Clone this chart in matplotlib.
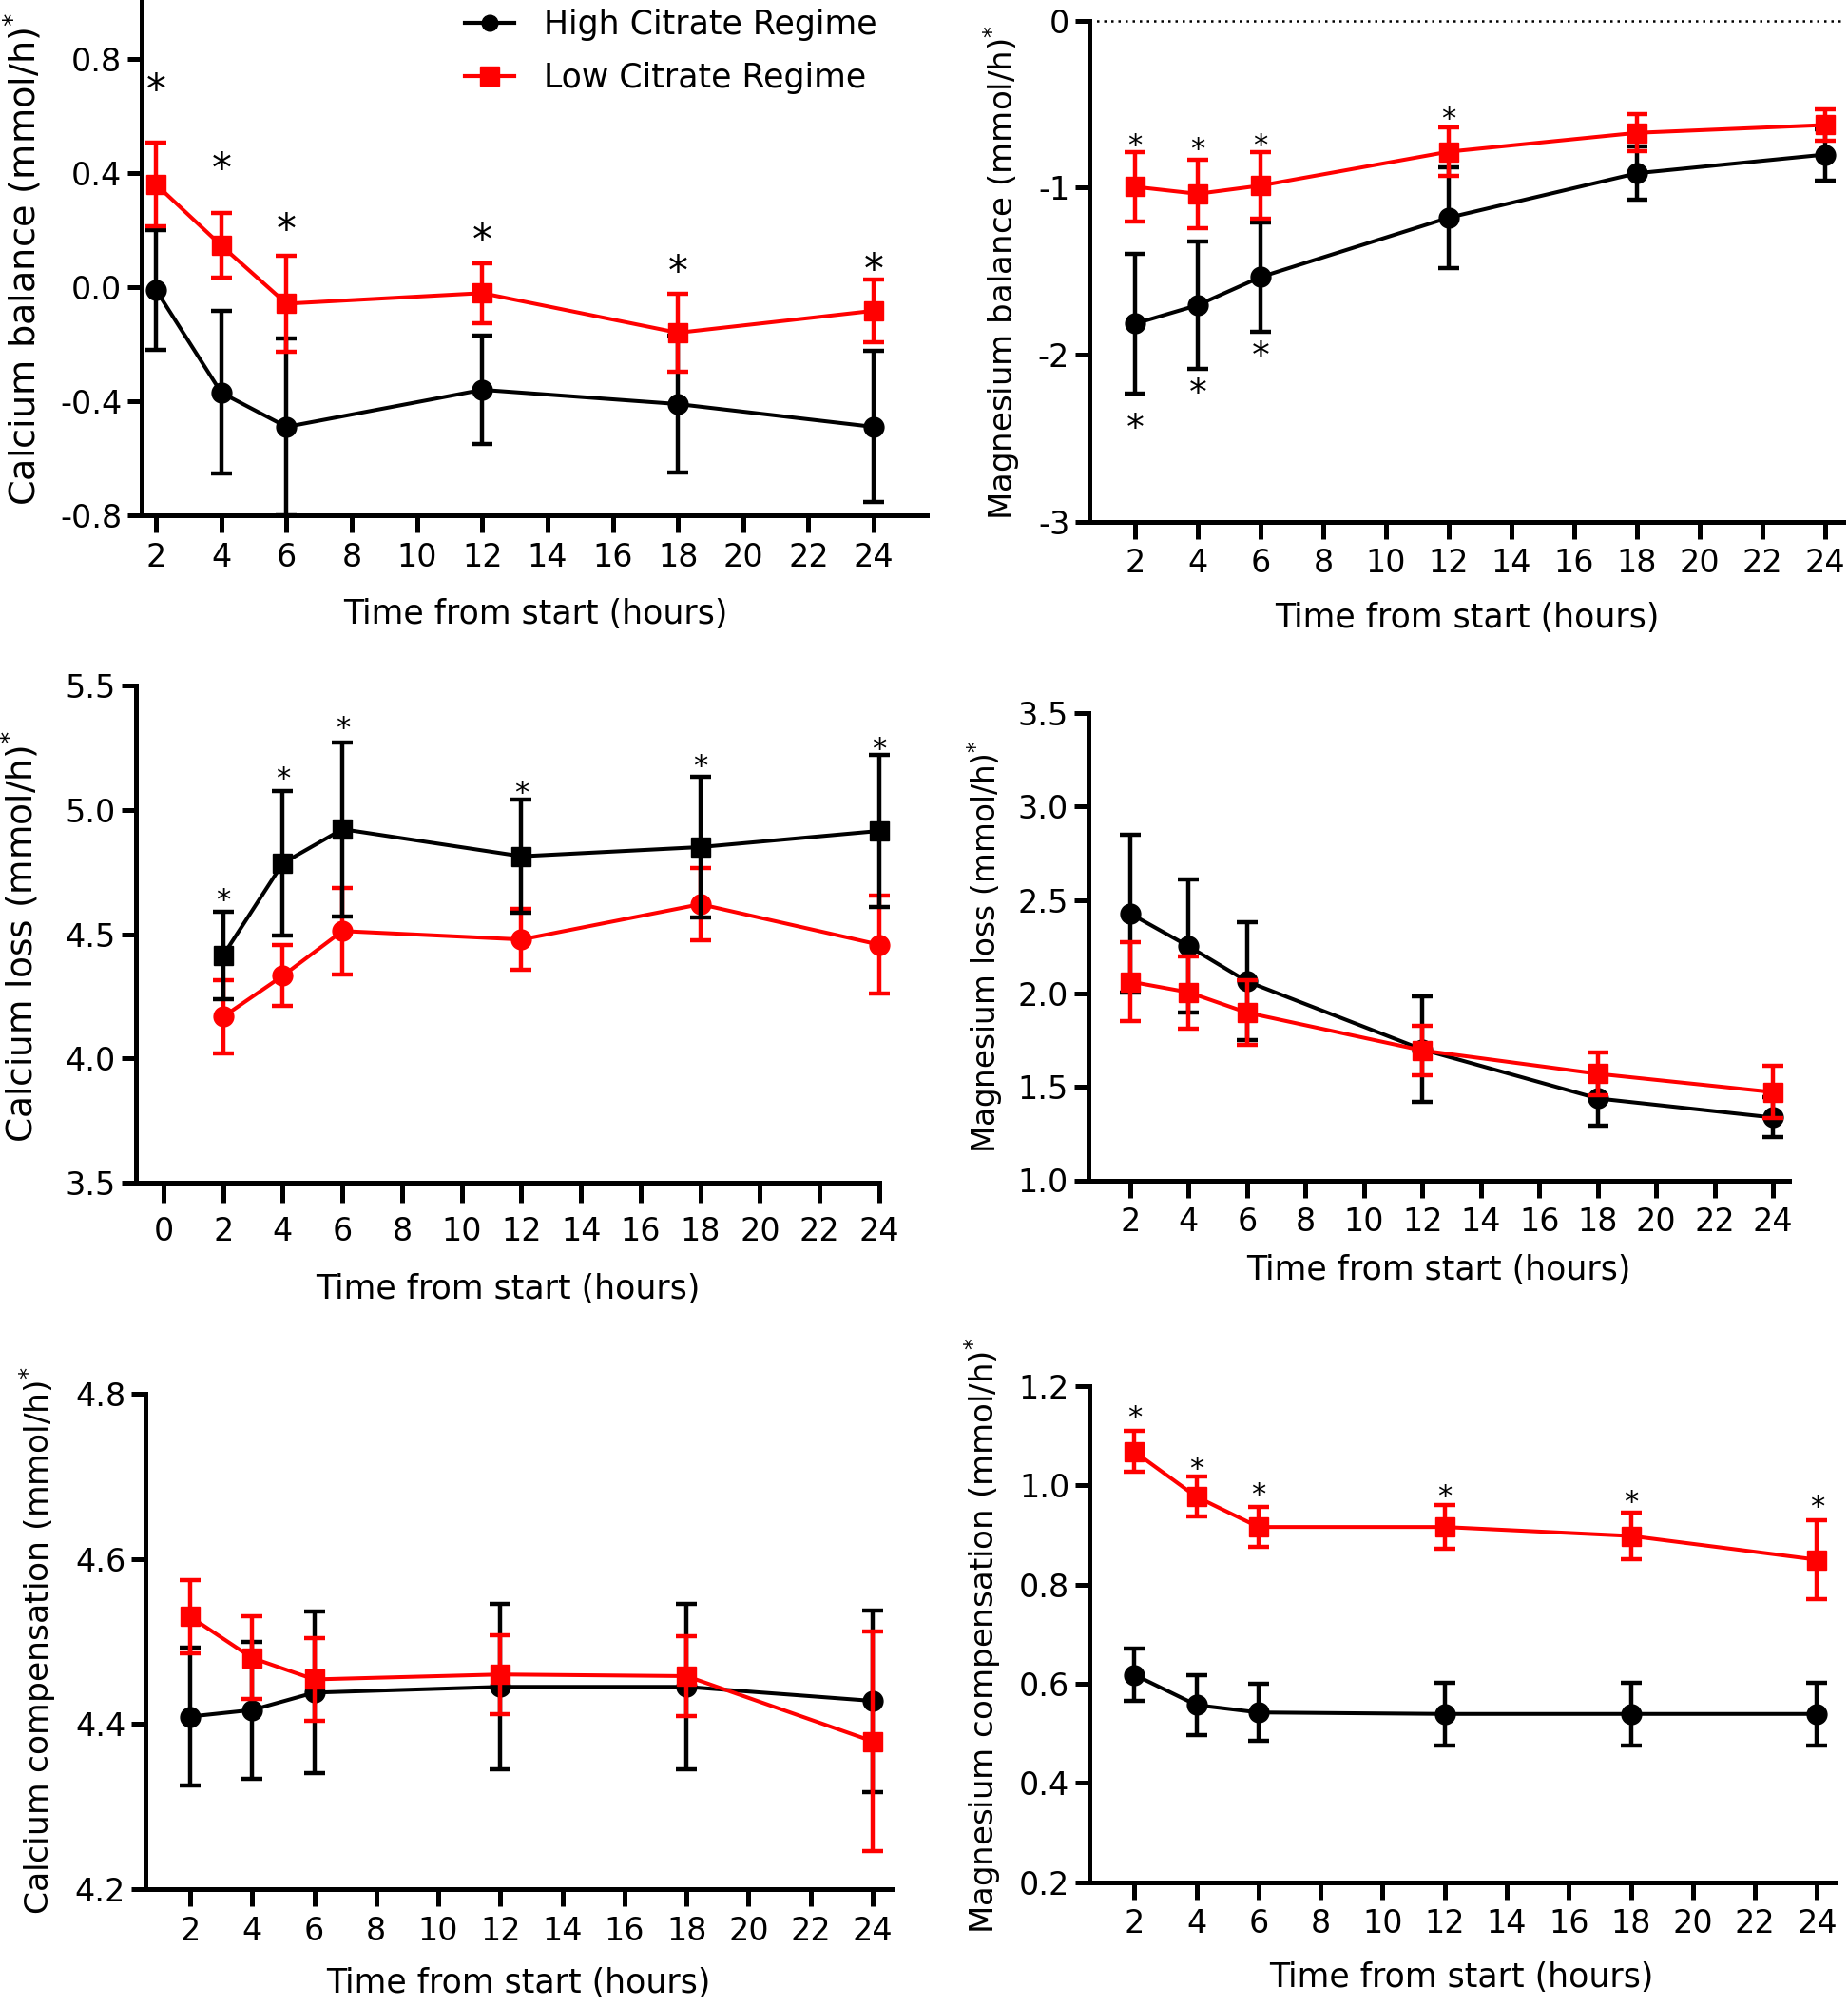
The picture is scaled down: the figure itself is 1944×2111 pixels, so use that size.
import matplotlib
matplotlib.use('Agg')
import matplotlib.pyplot as plt
from matplotlib.lines import Line2D
from matplotlib.ticker import FormatStrFormatter

plt.rcParams['font.family'] = ['DejaVu Sans']
plt.rcParams['axes.unicode_minus'] = False
plt.rcParams['mathtext.fontset'] = 'dejavusans'

# ---------------- data ----------------
hours = [2, 4, 6, 12, 18, 24]

ca_bal_high = [-0.01, -0.37, -0.49, -0.36, -0.41, -0.49]
ca_bal_high_err = [0.21, 0.285, 0.31, 0.19, 0.24, 0.265]
ca_bal_low = [0.36, 0.146, -0.058, -0.021, -0.16, -0.083]
ca_bal_low_err = [0.147, 0.113, 0.168, 0.105, 0.136, 0.11]
ca_bal_star = [0.726, 0.45, 0.236, 0.199, 0.09, 0.095]

mg_bal_high = [-1.815, -1.704, -1.536, -1.18, -0.914, -0.802]
mg_bal_high_err = [0.42, 0.38, 0.325, 0.30, 0.16, 0.154]
mg_bal_low = [-0.995, -1.037, -0.988, -0.785, -0.672, -0.625]
mg_bal_low_err = [0.21, 0.205, 0.2, 0.145, 0.11, 0.093]
mg_bal_star_hours = [2, 4, 6, 12]
mg_bal_star_top = [-0.70, -0.72, -0.70, -0.54]
mg_bal_star_low_hours = [2, 4, 6]
mg_bal_star_low = [-2.383, -2.173, -1.955]

ca_loss_high = [4.415, 4.786, 4.923, 4.814, 4.851, 4.916]
ca_loss_high_err = [0.175, 0.29, 0.35, 0.227, 0.283, 0.305]
ca_loss_low = [4.168, 4.333, 4.513, 4.479, 4.621, 4.458]
ca_loss_low_err = [0.148, 0.122, 0.173, 0.122, 0.145, 0.198]
ca_loss_star = [4.667, 5.159, 5.36, 5.103, 5.21, 5.279]

mg_loss_high = [2.427, 2.252, 2.064, 1.70, 1.438, 1.336]
mg_loss_high_err = [0.42, 0.356, 0.316, 0.282, 0.143, 0.107]
mg_loss_low = [2.063, 2.006, 1.897, 1.695, 1.57, 1.472]
mg_loss_low_err = [0.21, 0.193, 0.173, 0.133, 0.113, 0.139]

ca_comp_high = [4.409, 4.417, 4.438, 4.445, 4.445, 4.428]
ca_comp_high_err = [0.084, 0.083, 0.098, 0.1, 0.1, 0.11]
ca_comp_low = [4.530, 4.480, 4.454, 4.460, 4.458, 4.379]
ca_comp_low_err = [0.044, 0.05, 0.05, 0.048, 0.048, 0.133]

mg_comp_high = [0.618, 0.557, 0.542, 0.539, 0.539, 0.539]
mg_comp_high_err = [0.052, 0.06, 0.058, 0.063, 0.063, 0.063]
mg_comp_low = [1.068, 0.977, 0.916, 0.916, 0.898, 0.85]
mg_comp_low_err = [0.041, 0.04, 0.04, 0.044, 0.047, 0.08]
mg_comp_star = [1.153, 1.05, 0.997, 0.994, 0.983, 0.972]

legend_labels = ['High Citrate Regime', 'Low Citrate Regime']
xlabel = 'Time from start (hours)'

# ---------------- layout ----------------
W, H = 1944, 2111
fig = plt.figure(figsize=(W / 100, H / 100), dpi=100)

RED = '#ff0000'
BLK = '#000000'
TICKFS = 24


def px_axes(l, r, b, t):
    return fig.add_axes([l / W, 1 - b / H, (r - l) / W, (b - t) / H])


def style(ax, xlim, ylim, xticks, yticks, fmt, xlen=13, xpad=7):
    ax.set_xlim(*xlim)
    ax.set_ylim(*ylim)
    for s in ('top', 'right'):
        ax.spines[s].set_visible(False)
    for s in ('left', 'bottom'):
        ax.spines[s].set_linewidth(3.6)
    ax.set_xticks(xticks)
    ax.set_yticks(yticks)
    ax.yaxis.set_major_formatter(FormatStrFormatter(fmt))
    ax.tick_params(axis='y', direction='out', length=11, width=3.6,
                   labelsize=TICKFS, pad=4)
    ax.tick_params(axis='x', direction='out', length=xlen, width=3.6,
                   labelsize=TICKFS, pad=xpad)
    ax.patch.set_visible(False)


def series(ax, y, err, color, marker, z):
    ax.errorbar(hours, y, yerr=err, color=color, marker=marker, ms=15,
                lw=2.9, elinewidth=3.2, capsize=8, capthick=3.2,
                clip_on=False, zorder=z)


def stars(ax, xs, ys, fs):
    for x, y in zip(xs, ys):
        ax.annotate('*', (x, y), xytext=(0, -0.57 * fs),
                    textcoords='offset points', ha='center', va='baseline',
                    fontsize=fs, annotation_clip=False)


def ylab(x, y, s, fs):
    fig.text(x / W, 1 - y / H, s, rotation=90, ha='center', va='center',
             fontsize=fs)


def xlab(x, y, fs=25):
    fig.text(x / W, 1 - y / H, xlabel, ha='center', va='center', fontsize=fs)


xt = list(range(2, 25, 2))

# Panel 1: calcium balance
ax1 = px_axes(149, 975, 542, 2)
style(ax1, (1.56, 25.63), (-0.8, 1.0), xt, [-0.8, -0.4, 0.0, 0.4, 0.8], '%.1f')
series(ax1, ca_bal_high, ca_bal_high_err, BLK, 'o', 3)
series(ax1, ca_bal_low, ca_bal_low_err, RED, 's', 4)
stars(ax1, hours, ca_bal_star, 30)
ylab(24, 272, 'Calcium balance (mmol/h)$^{*}$', 27.5)
xlab(563, 646)

handles = [Line2D([], [], color=BLK, lw=3, marker='o', ms=12),
           Line2D([], [], color=RED, lw=3, marker='s', ms=14)]
fig.legend(handles, legend_labels, loc='upper left',
           bbox_to_anchor=(489 / W, 1 - 9 / H), frameon=False, fontsize=25,
           handlelength=1.5, handletextpad=0.9, labelspacing=0.64,
           borderpad=0, borderaxespad=0)

# Panel 2: magnesium balance
ax2 = px_axes(1146, 1939, 548.6, 21.7)
style(ax2, (0.55, 24.58), (-3, 0), xt, [-3, -2, -1, 0], '%d')
ax2.axhline(0, color=BLK, lw=1.8, ls=(0, (1, 2)), zorder=1, clip_on=False)
series(ax2, mg_bal_high, mg_bal_high_err, BLK, 'o', 3)
series(ax2, mg_bal_low, mg_bal_low_err, RED, 's', 4)
stars(ax2, mg_bal_star_hours, mg_bal_star_top, 22)
stars(ax2, mg_bal_star_low_hours, mg_bal_star_low, 27)
ylab(1054, 286, 'Magnesium balance (mmol/h)$^{*}$', 24.5)
xlab(1543, 650)

# Panel 3: calcium loss
ax3 = px_axes(142.5, 925, 1244, 721.4)
style(ax3, (-0.94, 24), (3.5, 5.5), list(range(0, 25, 2)),
      [3.5, 4.0, 4.5, 5.0, 5.5], '%.1f', xlen=15, xpad=10)
series(ax3, ca_loss_low, ca_loss_low_err, RED, 'o', 3)
series(ax3, ca_loss_high, ca_loss_high_err, BLK, 's', 4)
stars(ax3, hours, ca_loss_star, 22)
ylab(21, 985, 'Calcium loss (mmol/h)$^{*}$', 27)
xlab(534, 1356)

# Panel 4: magnesium loss
ax4 = px_axes(1144.7, 1882, 1241.5, 750)
style(ax4, (0.56, 24.55), (1.0, 3.5), xt, [1.0, 1.5, 2.0, 2.5, 3.0, 3.5], '%.1f')
series(ax4, mg_loss_high, mg_loss_high_err, BLK, 'o', 3)
series(ax4, mg_loss_low, mg_loss_low_err, RED, 's', 4)
ylab(1036, 996, 'Magnesium loss (mmol/h)$^{*}$', 23.5)
xlab(1513, 1336)

# Panel 5: calcium compensation
ax5 = px_axes(153, 937.5, 1987, 1466)
style(ax5, (0.56, 24.6), (4.2, 4.8), xt, [4.2, 4.4, 4.6, 4.8], '%.1f')
series(ax5, ca_comp_high, ca_comp_high_err, BLK, 'o', 3)
series(ax5, ca_comp_low, ca_comp_low_err, RED, 's', 4)
ylab(40, 1726, 'Calcium compensation (mmol/h)$^{*}$', 24.8)
xlab(545, 2086)

# Panel 6: magnesium compensation
ax6 = px_axes(1146, 1929.6, 1979.6, 1458)
style(ax6, (0.55, 24.56), (0.2, 1.2), xt, [0.2, 0.4, 0.6, 0.8, 1.0, 1.2], '%.1f')
series(ax6, mg_comp_high, mg_comp_high_err, BLK, 'o', 3)
series(ax6, mg_comp_low, mg_comp_low_err, RED, 's', 4)
stars(ax6, hours, mg_comp_star, 22)
ylab(1034, 1720, 'Magnesium compensation (mmol/h)$^{*}$', 24.5)
xlab(1537, 2080)

fig.savefig('out.png', dpi=100)
